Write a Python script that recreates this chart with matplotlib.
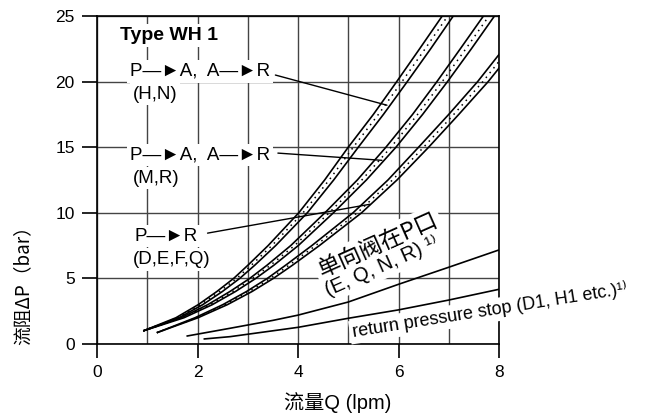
import matplotlib
matplotlib.use("Agg")
import matplotlib.pyplot as plt

# ---------------- data ----------------
# pressure levels (bar) at which the flow of each band edge was read
band_y = [1.0, 2, 3, 4, 5, 6, 7.5, 10, 12.5, 15, 17.5, 20, 22.5, 25]
# band 1: P->A, A->R (H,N)
hn_upper = [0.92, 1.57, 2.015, 2.385, 2.72, 3.002, 3.405, 4.015, 4.53, 5.00, 5.50, 5.965, 6.42, 6.87]
hn_mid   = [0.92, 1.60, 2.06, 2.44, 2.78, 3.07, 3.48, 4.10, 4.62, 5.10, 5.60, 6.07, 6.53, 6.98]
hn_lower = [0.92, 1.63, 2.105, 2.495, 2.84, 3.138, 3.555, 4.185, 4.71, 5.20, 5.70, 6.175, 6.64, 7.09]
# band 2: P->A, A->R (M,R)
mr_upper = [0.92, 1.67, 2.205, 2.645, 3.04, 3.382, 3.855, 4.535, 5.18, 5.75, 6.28, 6.765, 7.23, 7.69]
mr_mid   = [0.92, 1.70, 2.25, 2.70, 3.10, 3.45, 3.93, 4.62, 5.27, 5.85, 6.38, 6.87, 7.34, 7.80]
mr_lower = [0.92, 1.73, 2.295, 2.755, 3.16, 3.518, 4.005, 4.705, 5.36, 5.95, 6.48, 6.975, 7.45, 7.91]
# band 3: P->R (D,E,F,Q)
band3_y = [0.86, 2, 3, 4, 5, 6, 7.5, 10, 12.5, 15, 17.5, 20, 22.5]
pr_upper = [1.19, 1.95, 2.505, 2.975, 3.39, 3.752, 4.275, 5.095, 5.79, 6.40, 7.00, 7.575, 8.09]
pr_mid   = [1.19, 1.98, 2.55, 3.03, 3.45, 3.82, 4.35, 5.18, 5.88, 6.50, 7.10, 7.68, 8.20]
pr_lower = [1.19, 2.01, 2.595, 3.085, 3.51, 3.888, 4.425, 5.265, 5.97, 6.60, 7.20, 7.785, 8.31]
# check valve at P port (E,Q,N,R)
cv_q  = [1.78, 2.65, 3.5, 4.0, 5.0, 6.0, 7.0, 8.0]
cv_dp = [0.60, 1.20, 1.80, 2.2, 3.2, 4.55, 5.85, 7.17]
# return pressure stop (D1, H1 etc.)
rs_q  = [2.12, 2.65, 4.0, 5.0, 6.0, 7.0, 8.0]
rs_dp = [0.38, 0.56, 1.27, 1.96, 2.6, 3.35, 4.17]

x_ticks = [0, 2, 4, 6, 8]
x_minor = [1, 3, 5, 7]
y_ticks = [0, 5, 10, 15, 20, 25]

# ---------------- figure ----------------
LAT = ['Liberation Sans', 'Noto Sans CJK SC', 'DejaVu Sans']
CJK = ['Noto Sans CJK SC', 'DejaVu Sans']

fig = plt.figure(figsize=(6.5, 4.19), dpi=100)
ax = fig.add_axes([97 / 650, 75 / 419, 402 / 650, 328 / 419])
ax.set_xlim(0, 8)
ax.set_ylim(0, 25)
ax.set_xticks(x_ticks)
ax.set_xticks(x_minor, minor=True)
ax.set_yticks(y_ticks)
ax.set_axisbelow(True)
ax.grid(True, which='both', color='#444444', lw=1.0)
ax.tick_params(axis='x', which='major', direction='out', length=10, width=1.2,
               pad=5, labelsize=12.5)
ax.tick_params(axis='x', which='minor', length=0)
ax.tick_params(axis='y', direction='out', length=11, width=1.2, pad=5, labelsize=12.5)
for lab in ax.get_xticklabels() + ax.get_yticklabels():
    lab.set_family(LAT)
for s in ax.spines.values():
    s.set_linewidth(1.2)
    s.set_color('black')

solid = dict(color='black', lw=1.2, zorder=3, solid_capstyle='butt')
dotted = dict(color='black', lw=1.1, ls=(0, (1, 3)), zorder=3)
for up, mid, lo, yy in [(hn_upper, hn_mid, hn_lower, band_y),
                        (mr_upper, mr_mid, mr_lower, band_y),
                        (pr_upper, pr_mid, pr_lower, band3_y)]:
    ax.plot(up, yy, **solid)
    ax.plot(lo, yy, **solid)
    ax.plot(mid, yy, **dotted)
ax.plot(cv_q, cv_dp, **solid)
ax.plot(rs_q, rs_dp, **solid)

box = dict(boxstyle='square,pad=0.15', fc='white', ec='none')
tk = dict(fontsize=13.5, family=LAT, zorder=5, bbox=box, va='baseline', ha='left')

ax.text(0.46, 23.2, 'Type WH 1', fontsize=14, fontweight='bold', family=LAT,
        zorder=5, va='baseline', ha='left', bbox=box)
ax.text(0.65, 20.45, 'P—►A,  A—►R', **tk)
ax.text(0.71, 18.7, '(H,N)', **tk)
ax.text(0.65, 14.05, 'P—►A,  A—►R', **tk)
ax.text(0.71, 12.3, '(M,R)', **tk)
ax.text(0.75, 7.9, 'P—►R', **tk)
ax.text(0.71, 6.1, '(D,E,F,Q)', **tk)

lead = dict(arrowstyle='-', lw=1.0, color='black', shrinkA=0, shrinkB=0)
ax.annotate('', xy=(5.77, 18.2), xytext=(3.55, 20.5), arrowprops=lead, zorder=4)
ax.annotate('', xy=(5.67, 14.0), xytext=(3.6, 14.55), arrowprops=lead, zorder=4)
ax.annotate('', xy=(5.43, 10.65), xytext=(2.2, 8.45), arrowprops=lead, zorder=4)

rot = dict(rotation=24, rotation_mode='anchor', ha='left', va='baseline',
           zorder=5, bbox=box)
ax.text(4.47, 5.1, '单向阀在P口', fontsize=16.5, family=CJK, **rot)
ax.text(4.6, 3.6, '(E, Q, N, R) ¹⁾', fontsize=14.5, family=LAT, **rot)

ax.text(5.1, 0.5, 'return pressure stop (D1, H1 etc.)¹⁾', fontsize=13,
        family=LAT, rotation=9, rotation_mode='anchor', ha='left',
        va='baseline', zorder=5, bbox=box, clip_on=False)

fig.text(338 / 650, 1 - 403 / 419, '流量Q (lpm)', fontsize=14.5, family=LAT,
         ha='center', va='center')
fig.text(23 / 650, 1 - 281 / 419, '流阻ΔP（bar）', fontsize=13.5, family=CJK,
         rotation=90, ha='center', va='center')

fig.savefig('out.png', dpi=100)
